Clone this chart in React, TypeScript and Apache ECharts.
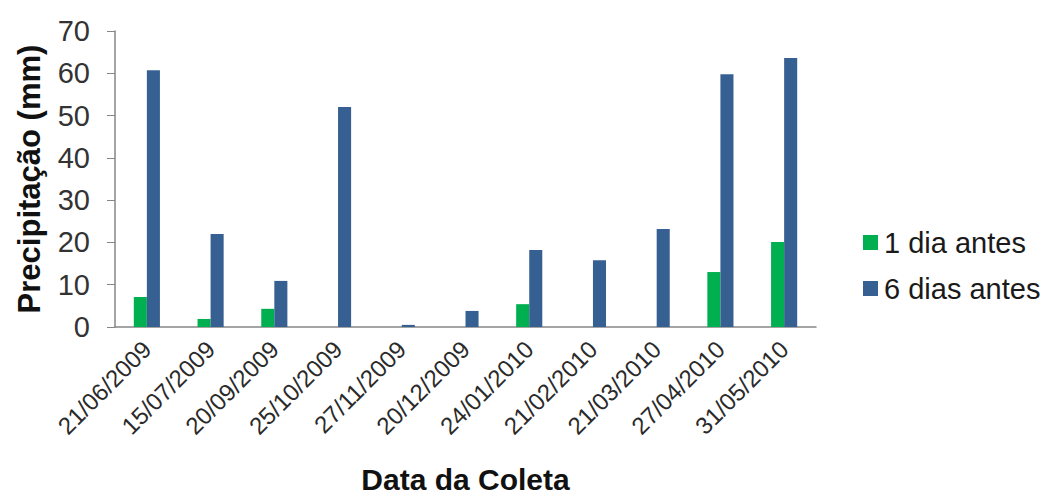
import React, { useEffect, useRef } from "react";
import * as echarts from "echarts";

const categories = [
  "21/06/2009", "15/07/2009", "20/09/2009", "25/10/2009", "27/11/2009", "20/12/2009",
  "24/01/2010", "21/02/2010", "21/03/2010", "27/04/2010", "31/05/2010",
];
const umDiaAntes = [7.1, 1.9, 4.3, 0, 0, 0, 5.4, 0, 0, 13, 20.1];
const seisDiasAntes = [60.7, 22, 10.9, 52, 0.5, 3.8, 18.2, 15.8, 23.2, 59.8, 63.6];

export default function App() {
  const ref = useRef<HTMLDivElement>(null);
  useEffect(() => {
    if (!ref.current) return;
    const chart = echarts.init(ref.current, undefined, { renderer: "svg" });
    const font = "'Liberation Sans', Arial, sans-serif";
    chart.setOption({
      animation: false,
      backgroundColor: "#ffffff",
      textStyle: { fontFamily: font },
      grid: { left: 115, right: 244, top: 31, bottom: 171, outerBoundsMode: "none", containLabel: false },
      legend: {
        orient: "vertical",
        left: 858,
        top: 223,
        icon: "rect",
        itemWidth: 15,
        itemHeight: 15,
        itemGap: 17,
        textStyle: { fontSize: 29, color: "#1a1a1a", fontFamily: font, padding: [0, 0, 0, 1] },
        data: ["1 dia antes", "6 dias antes"],
      },
      xAxis: {
        type: "category",
        data: categories,
        name: "Data da Coleta",
        nameLocation: "middle",
        nameGap: 137,
        nameTextStyle: { fontSize: 30, fontWeight: "bold", color: "#111", fontFamily: font },
        axisLine: { lineStyle: { color: "#868686", width: 1.5 } },
        axisTick: { show: false },
        axisLabel: { rotate: 45, fontSize: 24, color: "#2a2a2a", margin: 18, fontFamily: font },
      },
      yAxis: {
        type: "value",
        min: 0,
        max: 70,
        interval: 10,
        name: "Precipitação (mm)",
        nameLocation: "middle",
        nameGap: 70,
        nameTextStyle: { fontSize: 31, fontWeight: "bold", color: "#111", fontFamily: font },
        axisLine: { show: true, lineStyle: { color: "#868686", width: 1.5 } },
        axisTick: { show: true, length: 8, lineStyle: { color: "#868686" } },
        splitLine: { show: false },
        axisLabel: { fontSize: 29, color: "#333", margin: 25, fontFamily: font },
      },
      series: [
        {
          name: "1 dia antes",
          type: "bar",
          data: umDiaAntes,
          itemStyle: { color: "#00b050" },
          barGap: "0%",
          barCategoryGap: "59%",
        },
        {
          name: "6 dias antes",
          type: "bar",
          data: seisDiasAntes,
          itemStyle: { color: "#376092" },
          barGap: "0%",
          barCategoryGap: "59%",
        },
      ],
    });
    return () => chart.dispose();
  }, []);
  return (
    <div
      ref={ref}
      style={{ position: "fixed", left: 0, top: 0, width: 1060, height: 498 }}
    />
  );
}
